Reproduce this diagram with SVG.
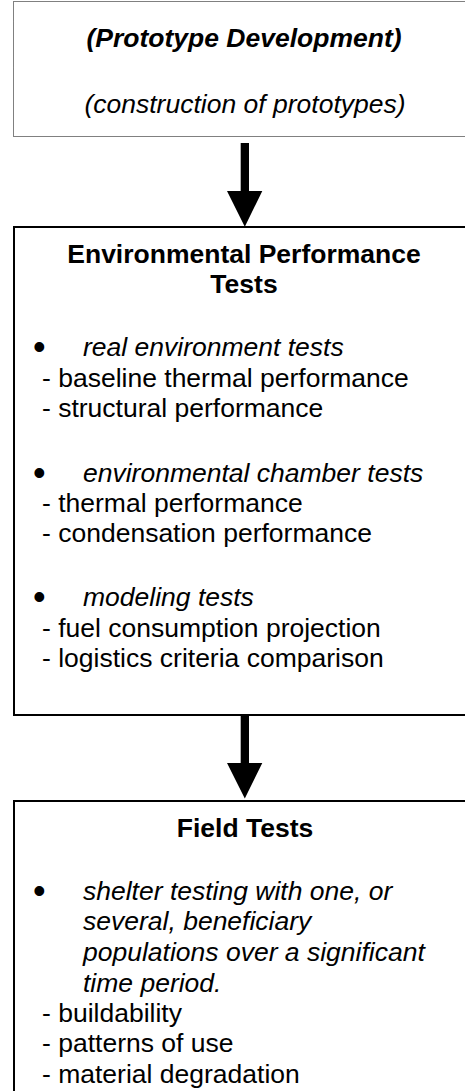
<svg xmlns="http://www.w3.org/2000/svg" width="465" height="1091" viewBox="0 0 465 1091">
<style>
.t{font-family:"Liberation Sans",Arial,sans-serif;font-size:26.5px;fill:#000}
.b{font-weight:bold}
.i{font-style:italic}
.c{text-anchor:middle}
.bul{font-family:"Liberation Sans",Arial,sans-serif;font-size:36px;fill:#000}
.box{fill:#fff;stroke:#000;stroke-width:2}
.dot{fill:#fff;stroke:#000;stroke-width:1;stroke-dasharray:1 1}
.arr{fill:#000;stroke:none}
</style>
<rect width="465" height="1091" fill="#fff"/>
<g id="prototype">
<rect class="dot" x="13.5" y="1.5" width="460" height="135"/>
<text class="t b i c" x="244" y="47">(Prototype Development)</text>
<text class="t i c" x="245" y="113">(construction of prototypes)</text>
</g>
<g id="environmental">
<rect class="box" x="14" y="227" width="460" height="488"/>
<text class="t b c" x="244" y="263">Environmental Performance</text>
<text class="t b c" x="244" y="293">Tests</text>
<text class="bul" x="33" y="359">•</text>
<text class="t i" x="83" y="356">real environment tests</text>
<text class="t" x="42" y="386.7">- baseline thermal performance</text>
<text class="t" x="42" y="416.7">- structural performance</text>
<text class="bul" x="33" y="484.7">•</text>
<text class="t i" x="83" y="481.7">environmental chamber tests</text>
<text class="t" x="42" y="511.7">- thermal performance</text>
<text class="t" x="42" y="541.7">- condensation performance</text>
<text class="bul" x="33" y="609">•</text>
<text class="t i" x="83" y="606">modeling tests</text>
<text class="t" x="42" y="636.7">- fuel consumption projection</text>
<text class="t" x="42" y="666.7">- logistics criteria comparison</text>
</g>
<g id="field">
<rect class="box" x="14" y="801" width="460" height="300"/>
<text class="t b c" x="245" y="836.7">Field Tests</text>
<text class="bul" x="33" y="903">•</text>
<text class="t i" x="83" y="900">shelter testing with one, or</text>
<text class="t i" x="83" y="930">several, beneficiary</text>
<text class="t i" x="83" y="961">populations over a significant</text>
<text class="t i" x="83" y="991.5">time period.</text>
<text class="t" x="42" y="1021.7">- buildability</text>
<text class="t" x="42" y="1051.7">- patterns of use</text>
<text class="t" x="42" y="1083">- material degradation</text>
</g>
<g id="connectors">
<path class="arr" d="M240.7 143 H249 V191 H262.3 L244.8 226.7 L227 191 H240.7 Z"/>
<path class="arr" d="M240.7 716 H249 V763 H262.3 L244.8 798.5 L227 763 H240.7 Z"/>
</g>
</svg>
